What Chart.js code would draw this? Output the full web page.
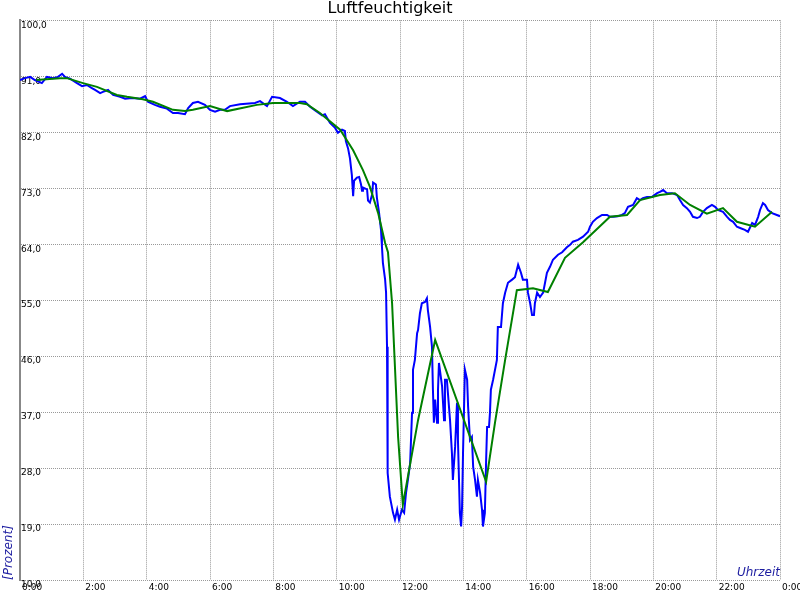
<!DOCTYPE html>
<html>
<head>
<meta charset="utf-8">
<script src="https://cdn.jsdelivr.net/npm/chart.js@4/dist/chart.umd.min.js"></script>
<style>
html,body{margin:0;padding:0;background:#fff;}
canvas{display:block;}
</style>
</head>
<body>
<canvas id="c" width="800" height="600"></canvas>
<script>
// Measured humidity (blue): time in hours, value in percent
const blueTimes = [0,0.16,0.32,0.47,0.69,0.85,1.04,1.20,1.33,1.42,1.58,1.80,1.96,2.11,2.27,2.37,2.53,2.62,2.78,2.94,3.16,3.32,3.54,3.79,3.95,4.04,4.26,4.42,4.64,4.83,4.99,5.21,5.31,5.46,5.62,5.84,6.00,6.16,6.32,6.47,6.63,6.95,7.42,7.58,7.80,7.96,8.21,8.43,8.62,8.84,9.00,9.16,9.32,9.54,9.63,9.79,9.95,10.04,10.17,10.26,10.29,10.36,10.42,10.48,10.52,10.55,10.64,10.71,10.77,10.80,10.83,10.96,10.99,11.05,11.12,11.15,11.24,11.27,11.34,11.40,11.43,11.46,11.53,11.56,11.59,11.60,11.62,11.68,11.78,11.84,11.91,11.97,12.06,12.13,12.19,12.25,12.32,12.38,12.41,12.47,12.54,12.57,12.63,12.69,12.79,12.85,12.88,12.95,13.01,13.04,13.07,13.11,13.17,13.20,13.23,13.33,13.39,13.42,13.48,13.58,13.64,13.67,13.74,13.80,13.83,13.89,13.93,13.96,13.99,14.05,14.12,14.15,14.21,14.27,14.31,14.37,14.43,14.46,14.53,14.59,14.62,14.68,14.72,14.75,14.81,14.84,14.87,14.94,15.06,15.09,15.19,15.25,15.32,15.41,15.54,15.63,15.73,15.82,15.88,16.01,16.04,16.11,16.17,16.23,16.26,16.33,16.42,16.52,16.58,16.64,16.74,16.83,16.99,17.12,17.27,17.37,17.46,17.62,17.78,17.94,18.00,18.09,18.22,18.38,18.54,18.63,18.73,18.88,19.01,19.10,19.20,19.36,19.48,19.58,19.67,19.80,19.96,20.12,20.21,20.31,20.43,20.59,20.75,20.84,20.94,21.06,21.16,21.25,21.38,21.47,21.57,21.69,21.85,21.95,22.04,22.20,22.33,22.42,22.52,22.64,22.74,22.89,22.99,23.12,23.21,23.31,23.37,23.46,23.53,23.62,23.75,23.90,24.00];
const blueValues = [90.4,90.7,90.9,90.4,89.9,90.9,90.7,90.9,91.4,90.9,90.6,89.9,89.4,89.6,89.1,88.8,88.3,88.5,88.8,88.0,87.7,87.4,87.5,87.4,87.8,86.9,86.4,86.1,85.8,85.1,85.1,84.9,85.9,86.7,86.9,86.4,85.6,85.3,85.6,85.6,86.2,86.5,86.7,87.0,86.2,87.7,87.5,86.9,86.2,86.9,86.9,86.1,85.5,84.7,84.9,83.5,82.7,81.9,82.4,82.2,80.6,79.4,77.8,75.1,71.7,74.2,74.7,74.8,73.6,72.6,73.1,72.8,71.0,70.7,72.0,73.9,73.6,71.5,69.0,66.3,63.6,61.0,58.3,56.2,47.5,34.6,27.2,23.4,20.8,19.7,21.3,19.7,21.3,20.8,24.0,26.1,28.8,36.9,43.8,45.4,49.7,50.2,52.9,54.5,54.7,55.3,53.4,50.7,47.5,40.6,35.3,39.0,35.3,40.6,44.9,41.1,35.7,42.2,42.2,35.7,30.4,26.1,31.4,38.5,32.5,20.8,18.6,21.8,30.4,43.8,42.2,37.9,32.5,33.0,28.2,26.1,23.4,26.1,24.0,21.3,18.6,20.8,29.3,34.6,34.6,36.8,40.6,42.2,45.4,50.7,50.7,54.5,56.2,57.8,58.3,58.7,60.7,59.4,58.3,58.3,56.2,54.5,52.6,52.6,54.5,56.2,55.5,56.2,57.8,59.4,60.4,61.5,62.3,62.7,63.5,63.9,64.4,64.7,65.2,66.0,66.8,67.6,68.2,68.7,68.7,68.4,68.4,68.5,68.7,69.0,70.0,70.3,71.4,71.1,71.4,71.6,71.6,72.2,72.4,72.7,72.2,72.2,71.9,71.1,70.3,69.8,69.2,68.4,68.2,68.4,69.2,69.8,70.3,70.0,69.5,69.2,68.4,67.9,67.6,66.8,66.6,66.3,66.0,67.4,67.1,68.4,69.5,70.6,70.3,69.5,69.0,68.7,68.5];

// Averaged humidity (green)
const greenTimes = [0.51,1.26,1.48,1.99,2.43,3.06,3.38,3.88,4.20,4.83,5.21,5.46,6.00,6.54,7.48,7.99,8.84,9.06,9.47,10.11,10.52,10.83,11.05,11.31,11.53,11.62,11.75,11.94,12.09,12.57,13.11,14.72,15.00,15.32,15.69,16.20,16.67,17.21,17.78,18.63,19.17,19.58,20.21,20.68,21.16,21.69,22.20,22.64,23.21,23.75];
const greenValues = [90.4,90.7,90.7,89.9,89.3,88.0,87.7,87.3,86.9,85.6,85.4,85.6,86.2,85.4,86.4,86.7,86.7,86.5,85.1,82.4,79.1,75.9,73.2,69.0,64.2,62.7,54.5,33.0,22.1,35.7,48.6,25.8,35.3,45.4,56.6,56.9,56.3,61.8,64.3,68.4,68.7,71.1,71.9,72.2,70.3,68.9,69.8,67.6,66.8,69.2];

const titleText = 'Luftfeuchtigkeit';
const xTitle = 'Uhrzeit';
const yTitle = '[Prozent]';
const yMin = 10, yMax = 100, yStep = 9;
const xMin = 0, xMax = 24, xStep = 2;

const toPts = (ts, vs) => ts.map((t, i) => ({x: t, y: vs[i]}));
const tickFont = {family: 'DejaVu Sans', size: 9};
const titleColor = '#1c1ca0';
const gridColor = '#999999';

new Chart(document.getElementById('c'), {
  type: 'line',
  data: {
    datasets: [
      {label: 'Mittel', data: toPts(greenTimes, greenValues), borderColor: '#008000', borderWidth: 2, pointRadius: 0, tension: 0, fill: false},
      {label: 'Messwert', data: toPts(blueTimes, blueValues), borderColor: '#0000ff', borderWidth: 2, pointRadius: 0, tension: 0, fill: false}
    ]
  },
  options: {
    responsive: false,
    animation: false,
    devicePixelRatio: 1,
    layout: {padding: {left: 0, right: 20, top: 0, bottom: 0}},
    plugins: {
      legend: {display: false},
      tooltip: {enabled: false},
      title: {display: true, text: titleText, color: '#000', font: {family: 'DejaVu Sans', size: 16, weight: 'normal', lineHeight: 1.15}, padding: {top: 0, bottom: 1.9}}
    },
    scales: {
      x: {
        type: 'linear', min: xMin, max: xMax,
        afterFit: s => { s.height = 20; s.paddingLeft = 0; s.paddingRight = 0; },
        ticks: {stepSize: xStep, align: 'start', labelOffset: 2, padding: 2, maxRotation: 0, autoSkip: false, color: '#000', font: tickFont,
          callback: v => (v % 24) + ':00'},
        grid: {color: gridColor, lineWidth: 1, drawTicks: false},
        border: {display: false, dash: [1, 1]},
        title: {display: true, text: xTitle, align: 'end', color: titleColor, font: {family: 'DejaVu Sans', size: 12, style: 'italic'}, padding: {top: 0, bottom: 20}}
      },
      y: {
        min: yMin, max: yMax,
        afterFit: s => { s.width = 20; s.paddingTop = 0; s.paddingBottom = 0; },
        ticks: {stepSize: yStep, mirror: true, padding: 1, labelOffset: 5, color: '#000', font: tickFont, autoSkip: false,
          callback: v => v.toFixed(1).replace('.', ',')},
        grid: {color: gridColor, lineWidth: 1, drawTicks: false},
        border: {display: true, color: '#888', width: 2, dash: [1, 1]},
        title: {display: true, text: yTitle, align: 'start', color: titleColor, font: {family: 'DejaVu Sans', size: 12, style: 'italic'}, padding: {top: 2, bottom: 0}}
      }
    }
  }
});
</script>
</body>
</html>
